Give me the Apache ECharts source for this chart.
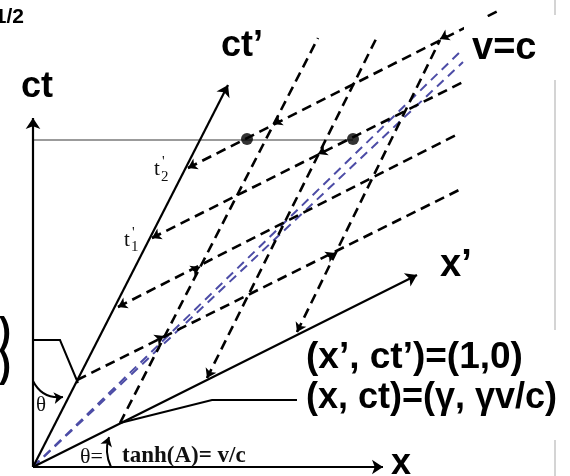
<!DOCTYPE html>
<html><head><meta charset="utf-8">
<script src="https://cdn.jsdelivr.net/npm/echarts@6/dist/echarts.min.js"></script>
<style>html,body{margin:0;padding:0;background:#fff}#c{width:570px;height:476px}</style>
</head><body><div id="c"></div>
<script>
// Coordinates are (x, ct), 1 unit = 100 px
const restAxes = [[[0, 0], [0, 3.49]], [[0, 0], [3.50, 0]]];
const movingAxes = [[[0, 0], [1.95, 3.82]], [[0, 0], [3.84, 1.92]]];
const lightLines = [[[0, 0], [4.30, 4.18]], [[0, 0], [4.30, 4.05]]];
const constCtPrime = [
  [[0.44, 0.87], [4.30, 2.79]],
  [[0.85, 1.60], [4.27, 3.34]],
  [[1.19, 2.29], [4.30, 3.85]],
  [[1.55, 2.99], [4.67, 4.57]]
];
const constXPrime = [
  [[0.87, 0.44], [2.85, 4.29]],
  [[1.74, 0.89], [3.44, 4.30]],
  [[2.64, 1.35], [4.07, 4.27]]
];
const simultaneity = [[[0, 3.27], [3.20, 3.27]]];
const events = [[2.14, 3.28], [3.20, 3.28]];
const arrowMarks = [
  [[0.92, 1.635], [0.85, 1.60]],
  [[1.26, 2.325], [1.19, 2.29]],
  [[1.62, 3.025], [1.55, 2.99]],
  [[1.775, 0.96], [1.74, 0.89]],
  [[2.675, 1.42], [2.64, 1.35]],
  [[1.24, 1.275], [1.31, 1.31]],
  [[1.60, 1.965], [1.67, 2.00]],
  [[2.95, 2.105], [3.02, 2.14]],
  [[2.92, 3.165], [2.85, 3.13]],
  [[2.47, 3.465], [2.40, 3.43]],
  [[4.14, 4.315], [4.07, 4.28]]
];
const pointerLeft = [[0, 1.27], [0.27, 1.27], [0.45, 0.84]];
const pointerRight = [[2.64, 0.67], [1.79, 0.67], [0.87, 0.44]];
const thetaArcTop = [[0, 0.86], [0.30, 0.70]];
const thetaArcBottom = [[0.78, 0.0], [0.76, 0.30]];
const frameEdge = [[[5.22, 4.67], [5.22, 4.52]], [[5.22, 3.87], [5.22, 1.37]], [[5.22, 0.27], [5.22, -0.09]]];

const seg = list => list.map(c => ({ coords: c }));
const chart = echarts.init(document.getElementById('c'), null, { renderer: 'canvas' });
const base = { type: 'lines', coordinateSystem: 'cartesian2d', silent: true, clip: false, animation: false };
const bold = '"Liberation Sans", Arial, sans-serif';
const serif = '"Liberation Serif", "Times New Roman", serif';

chart.setOption({
  animation: false,
  backgroundColor: '#fff',
  grid: { left: 33, right: 0, top: 0, bottom: 9 },
  xAxis: { type: 'value', min: 0, max: 5.37, show: false },
  yAxis: { type: 'value', min: 0, max: 4.67, show: false },
  series: [
    Object.assign({}, base, { name: 'frame', data: seg(frameEdge), symbol: 'none',
      lineStyle: { color: '#d4d4d4', width: 2, opacity: 1 } }),
    Object.assign({}, base, { name: 'simultaneity', data: seg(simultaneity), symbol: 'none',
      lineStyle: { color: '#7a7a7a', width: 1.6, opacity: 1 } }),
    Object.assign({}, base, { name: 'light', data: seg(lightLines), symbol: 'none',
      lineStyle: { color: '#4c4ca6', width: 2, type: [9, 6], opacity: 1 } }),
    Object.assign({}, base, { name: 'ct prime grid', data: seg(constCtPrime), symbol: 'none',
      lineStyle: { color: '#000', width: 2.6, type: [10, 6], opacity: 1 } }),
    Object.assign({}, base, { name: 'x prime grid', data: seg(constXPrime), symbol: 'none',
      lineStyle: { color: '#000', width: 2.6, type: [10, 6], opacity: 1 } }),
    Object.assign({}, base, { name: 'arrows', data: seg(arrowMarks), symbol: ['none', 'arrow'], symbolSize: 9,
      lineStyle: { color: '#000', width: 1.5, opacity: 1 } }),
    Object.assign({}, base, { name: 'axes', data: seg(restAxes.concat(movingAxes)), symbol: ['none', 'arrow'], symbolSize: 11,
      lineStyle: { color: '#000', width: 2.2, opacity: 1 } }),
    Object.assign({}, base, { name: 'pointers', polyline: true, data: [{ coords: pointerLeft }, { coords: pointerRight }],
      symbol: ['none', 'arrow'], symbolSize: 10, lineStyle: { color: '#000', width: 2, opacity: 1 } }),
    Object.assign({}, base, { name: 'arcTop', data: seg([thetaArcTop]), symbol: ['none', 'arrow'], symbolSize: 9,
      lineStyle: { color: '#000', width: 2, opacity: 1, curveness: -0.35 } }),
    Object.assign({}, base, { name: 'arcBottom', data: seg([thetaArcBottom]), symbol: ['none', 'arrow'], symbolSize: 9,
      lineStyle: { color: '#000', width: 2, opacity: 1, curveness: 0.2 } }),
    { type: 'scatter', name: 'events', data: events, symbolSize: 12, itemStyle: { color: '#000' }, silent: true, animation: false }
  ],
  graphic: [
    { type: 'rect', z: 100, shape: { x: 464, y: 17, width: 86, height: 62 }, style: { fill: '#fff' } },
    { type: 'text', z: 101, x: 24, y: 17, style: { text: '1/2', font: 'bold 21px ' + bold, fill: '#000', align: 'right', verticalAlign: 'middle' } },
    { type: 'text', z: 101, x: 21, y: 87, style: { text: 'ct', font: 'bold 36px ' + bold, fill: '#000', verticalAlign: 'middle' } },
    { type: 'text', z: 101, x: 221, y: 46, style: { text: 'ct’', font: 'bold 36px ' + bold, fill: '#000', verticalAlign: 'middle' } },
    { type: 'text', z: 101, x: 472, y: 49, style: { text: 'v=c', font: 'bold 38px ' + bold, fill: '#000', verticalAlign: 'middle' } },
    { type: 'text', z: 101, x: 440, y: 266, style: { text: 'x’', font: 'bold 38px ' + bold, fill: '#000', verticalAlign: 'middle' } },
    { type: 'text', z: 101, x: 306, y: 358, style: { text: '(x’, ct’)=(1,0)', font: 'bold 37px ' + bold, fill: '#000', verticalAlign: 'middle' } },
    { type: 'text', z: 101, x: 306, y: 398, style: { text: '(x, ct)=(γ, γv/c)', font: 'bold 36px ' + bold, fill: '#000', verticalAlign: 'middle' } },
    { type: 'text', z: 101, x: 11, y: 333, style: { text: '(x’, ct’)=(0,1)', font: 'bold 36px ' + bold, fill: '#000', align: 'right', verticalAlign: 'middle' } },
    { type: 'text', z: 101, x: 11, y: 367, style: { text: '(x, ct)=(γv/c, γ)', font: 'bold 36px ' + bold, fill: '#000', align: 'right', verticalAlign: 'middle' } },
    { type: 'text', z: 101, x: 391, y: 464, style: { text: 'x', font: 'bold 36px ' + bold, fill: '#000', verticalAlign: 'middle' } },
    { type: 'text', z: 101, x: 36, y: 405, style: { text: 'θ', font: '21px ' + serif, fill: '#111', verticalAlign: 'middle' } },
    { type: 'text', z: 101, x: 80, y: 457, style: { text: 'θ=', font: '22px ' + serif, fill: '#111', verticalAlign: 'middle' } },
    { type: 'text', z: 101, x: 122, y: 456, style: { text: 'tanh(A)= v/c', font: 'bold 23px ' + serif, fill: '#111', verticalAlign: 'middle' } },
    { type: 'text', z: 101, x: 124, y: 240, style: { text: 't', font: '21px ' + serif, fill: '#111', verticalAlign: 'middle' } },
    { type: 'text', z: 101, x: 132, y: 233, style: { text: "'", font: '15px ' + serif, fill: '#111', verticalAlign: 'middle' } },
    { type: 'text', z: 101, x: 131, y: 247, style: { text: '1', font: '15px ' + serif, fill: '#111', verticalAlign: 'middle' } },
    { type: 'text', z: 101, x: 154, y: 169, style: { text: 't', font: '21px ' + serif, fill: '#111', verticalAlign: 'middle' } },
    { type: 'text', z: 101, x: 162, y: 162, style: { text: "'", font: '15px ' + serif, fill: '#111', verticalAlign: 'middle' } },
    { type: 'text', z: 101, x: 161, y: 177, style: { text: '2', font: '15px ' + serif, fill: '#111', verticalAlign: 'middle' } }
  ]
});
</script></body></html>
